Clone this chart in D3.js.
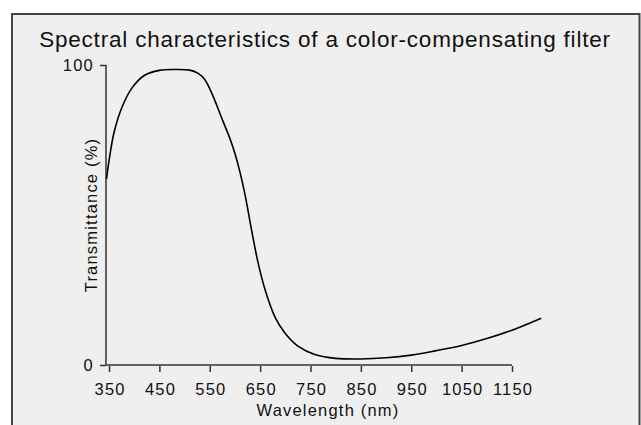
<!DOCTYPE html>
<html><head><meta charset="utf-8">
<script src="https://cdn.jsdelivr.net/npm/d3@7"></script>
<style>
html,body{margin:0;padding:0;background:#fff;}
text{font-family:"Liberation Sans",Arial,Helvetica,sans-serif;fill:#111;}
</style></head>
<body>
<svg id="chart" width="641" height="425"></svg>
<script>
const title = "Spectral characteristics of a color-compensating filter";
const xLabel = "Wavelength (nm)";
const yLabel = "Transmittance (%)";
const xTicks = [350, 450, 550, 650, 750, 850, 950, 1050, 1150];
const yTicks = [0, 100];
const wavelength = [345, 350, 360, 375, 395, 420, 450, 480, 510, 527, 540, 555, 575, 590, 600, 610, 620, 633, 645, 660, 680, 700, 725, 760, 800, 850, 900, 950, 1000, 1050, 1100, 1150, 1208];
const transmittance = [62, 68, 77.5, 85.6, 92.2, 96.5, 98.2, 98.5, 98.3, 97.2, 95.2, 90.2, 81.8, 75.5, 70.5, 64.3, 56.8, 45, 34.8, 25.0, 15.8, 10.5, 6.3, 3.4, 2.2, 2.0, 2.4, 3.3, 4.8, 6.5, 8.8, 11.6, 15.6];

const svg = d3.select("#chart");
// frame
svg.append("rect").attr("x", 12).attr("y", 14).attr("width", 627.5).attr("height", 430)
  .attr("fill", "#efefef").attr("stroke", "#444").attr("stroke-width", 2);

const x = d3.scaleLinear().domain([350, 1150]).range([109, 512]);
const y = d3.scaleLinear().domain([0, 100]).range([365, 65]);
const x0 = x.invert(106);

svg.append("text").attr("x", 325).attr("y", 47).attr("text-anchor", "middle")
  .style("font-size", "22.5px").style("letter-spacing", "0.8px").text(title);

// x axis
const gx = svg.append("g").attr("transform", `translate(0,${y(0)})`)
  .call(d3.axisBottom(x).tickValues(xTicks).tickSize(7).tickPadding(11).tickFormat(d3.format("d")));
gx.select(".domain").attr("d", `M${x(x0)},0H${x(1150)}`);
// y axis
const gy = svg.append("g").attr("transform", `translate(${x(x0)},0)`)
  .call(d3.axisLeft(y).tickValues(yTicks).tickSize(6).tickPadding(6));
gy.select(".domain").attr("d", `M0,${y(0)}V${y(100)}`);
[gx, gy].forEach(g => {
  g.selectAll(".domain,line").attr("stroke", "#333").attr("stroke-width", 1.5);
  g.selectAll("text").attr("font-family", null).style("font-size", "16.5px").style("letter-spacing", "1.2px").attr("fill", "#111");
});
gx.selectAll(".tick line").attr("y1", 1);
gx.selectAll(".tick text").attr("dx", "0.6px");

svg.append("text").attr("x", 328).attr("y", 416).attr("text-anchor", "middle")
  .style("font-size", "16.5px").style("letter-spacing", "1.2px").text(xLabel);
svg.append("text").attr("transform", `translate(97,215) rotate(-90)`).attr("text-anchor", "middle")
  .style("font-size", "16.5px").style("letter-spacing", "1.2px").text(yLabel);

const pts = wavelength.map((w, i) => [w, transmittance[i]]);
const line = d3.line().x(d => x(d[0])).y(d => y(d[1])).curve(d3.curveCatmullRom.alpha(0.5));
svg.append("path").datum(pts).attr("d", line).attr("fill", "none")
  .attr("stroke", "#000").attr("stroke-width", 1.6);
</script>
</body></html>
